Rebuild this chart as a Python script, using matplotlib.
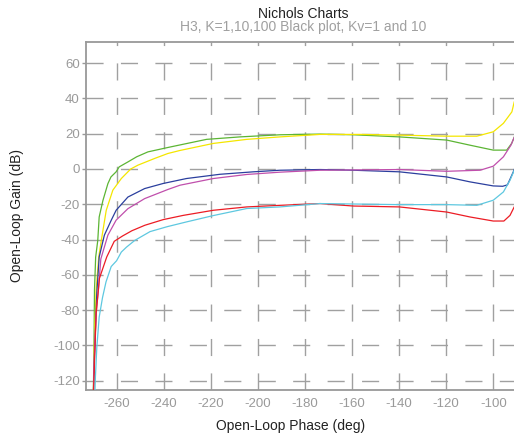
import matplotlib
matplotlib.use("Agg")
import matplotlib.pyplot as plt

plt.rcParams['font.family'] = ['Liberation Sans', 'DejaVu Sans']
plt.rcParams['axes.unicode_minus'] = False

# Nichols loci: open-loop phase (deg) and gain (dB) per gain setting
green_phase = [-269.9, -269.6, -269.4, -268.9, -268.0, -267.4, -265.8, -263.7, -262.4, -260.2,
               -258.9, -255.2, -251.5, -246.7, -238.2, -221.8, -207.6, -190.6, -173.6, -159.4,
               -139.9, -119.8, -109.9, -100.0, -94.3, -92.2, -91.1]
green_gain = [-130, -100, -68.8, -50, -40.5, -27.2, -17.8, -8.3, -4.5, -1.6,
              1.2, 4.0, 6.9, 9.7, 12.2, 16.8, 18.2, 19.4, 19.8, 19.4,
              18.2, 16.4, 13.5, 10.7, 10.7, 14.5, 18.0]

yellow_phase = [-269.9, -269.5, -268.7, -267.6, -266.5, -264.4, -261.6, -258.0, -254.0, -250.9,
                -243.8, -238.2, -233.1, -218.9, -204.7, -190.6, -173.6, -156.0, -139.9, -119.8,
                -107.0, -100.0, -95.7, -92.1, -91.1]
yellow_gain = [-130, -101, -68.8, -50, -40.5, -23.4, -12.0, -5.4, 0.0, 2.2,
               6.0, 8.8, 10.5, 14.5, 16.8, 18.2, 19.6, 19.6, 19.2, 18.6,
               18.6, 21.1, 25.9, 32.4, 38.0]

blue_phase = [-269.9, -269.5, -268.4, -267.4, -265.2, -262.3, -260.2, -255.2, -248.1, -240.2,
              -230.3, -216.1, -201.9, -190.6, -173.6, -159.4, -139.9, -119.8, -109.9, -100.0,
              -96.0, -94.0, -92.8, -91.5, -91.0]
blue_gain = [-130, -110, -70, -49.9, -37.5, -29.1, -23.4, -15.9, -11.1, -8.2,
             -5.4, -3.0, -1.6, -0.7, -0.3, -0.7, -1.6, -4.5, -7.3, -9.6,
             -9.8, -9.0, -5.5, -1.6, 0.0]

magenta_phase = [-269.9, -269.6, -268.7, -267.7, -266.7, -263.7, -260.2, -255.2, -248.1, -238.2,
                 -233.1, -218.9, -204.7, -190.6, -173.6, -139.9, -119.8, -105.6, -100.0, -95.7,
                 -92.5, -91.1]
magenta_gain = [-130, -110, -82, -68, -51, -37.5, -29.0, -22.5, -16.8, -11.6,
                -9.2, -5.4, -3.1, -1.8, -0.7, -0.3, -1.3, -0.7, 1.6, 6.9,
                13.5, 18.0]

red_phase = [-269.9, -269.4, -268.7, -267.3, -264.2, -261.0, -257.5, -253.5, -248.0, -240.2,
             -231.7, -218.9, -204.7, -190.6, -173.6, -159.4, -139.9, -119.8, -109.9, -100.0,
             -95.5, -92.9, -91.1]
red_gain = [-130, -110, -82, -62, -49.9, -41.0, -38.0, -35.0, -31.9, -28.7,
            -26.3, -23.4, -21.5, -20.6, -19.6, -21.0, -21.5, -24.4, -27.2, -29.5,
            -29.5, -26.3, -21.5]

cyan_phase = [-269.3, -269.0, -268.4, -267.4, -266.0, -264.5, -262.3, -260.0, -258.0, -255.8,
              -252.3, -245.8, -238.5, -230.3, -218.9, -204.7, -190.6, -173.6, -139.9, -119.8,
              -107.0, -100.0, -95.7, -92.9, -91.1]
cyan_gain = [-130, -118, -101, -84, -73, -64, -55.3, -52.0, -47.1, -44.3,
             -40.5, -35.5, -32.7, -30.0, -26.4, -22.4, -21.5, -19.6, -20.2, -20.2,
             -20.6, -17.7, -13.0, -6.4, -0.7]

x_ticks = [-260, -240, -220, -200, -180, -160, -140, -120, -100]
y_ticks = [-120, -100, -80, -60, -40, -20, 0, 20, 40, 60]

W, H = 514, 437
fig = plt.figure(figsize=(W / 100, H / 100), dpi=100)
ax = fig.add_axes([86 / W, 1 - 390 / H, (W - 86) / W, (390 - 42) / H])

grey = '#a0a0a0'
dash = (0, (12.3, 12.5))
for t in x_ticks:
    ax.axvline(t, color=grey, lw=1.0, linestyle=dash, zorder=1)
for t in y_ticks:
    ax.axhline(t, color=grey, lw=1.0, linestyle=dash, zorder=1)

series = [
    (green_phase, green_gain, '#5cb534'),
    (yellow_phase, yellow_gain, '#f4e600'),
    (blue_phase, blue_gain, '#2b3f9e'),
    (magenta_phase, magenta_gain, '#c04fac'),
    (red_phase, red_gain, '#ec1c24'),
    (cyan_phase, cyan_gain, '#5ec8e0'),
]
for ph, g, c in series:
    ax.plot(ph, g, color=c, lw=0.9, zorder=3)

ax.set_xlim(-273, -91.2)
ax.set_ylim(-125.3, 72)
ax.set_xticks(x_ticks)
ax.set_yticks(y_ticks)

for side in ['left', 'bottom', 'top']:
    ax.spines[side].set_color('#999999')
    ax.spines[side].set_linewidth(1.3)
ax.spines['right'].set_visible(False)

ax.tick_params(axis='y', colors='#999999', length=3, width=1.0, pad=1.5, labelsize=9.5,
               labelcolor='#9a9a9a')
ax.tick_params(axis='x', length=0, pad=5.5, labelsize=9.5, labelcolor='#9a9a9a')

ax.set_xlabel('Open-Loop Phase (deg)', fontsize=10, color='#222222', va='center')
ax.xaxis.set_label_coords(0.479, -0.103)
ax.set_ylabel('Open-Loop Gain (dB)', fontsize=10, color='#222222', va='center')
ax.yaxis.set_label_coords(-0.162, 0.5)

fig.text(303 / W, 1 - 14 / H, 'Nichols Charts', ha='center', va='center',
         fontsize=10, color='#222222')
fig.text(303 / W, 1 - 26.5 / H, 'H3, K=1,10,100 Black plot, Kv=1 and 10', ha='center',
         va='center', fontsize=10, color='#a0a0a0')

fig.savefig('out.png', dpi=100)
